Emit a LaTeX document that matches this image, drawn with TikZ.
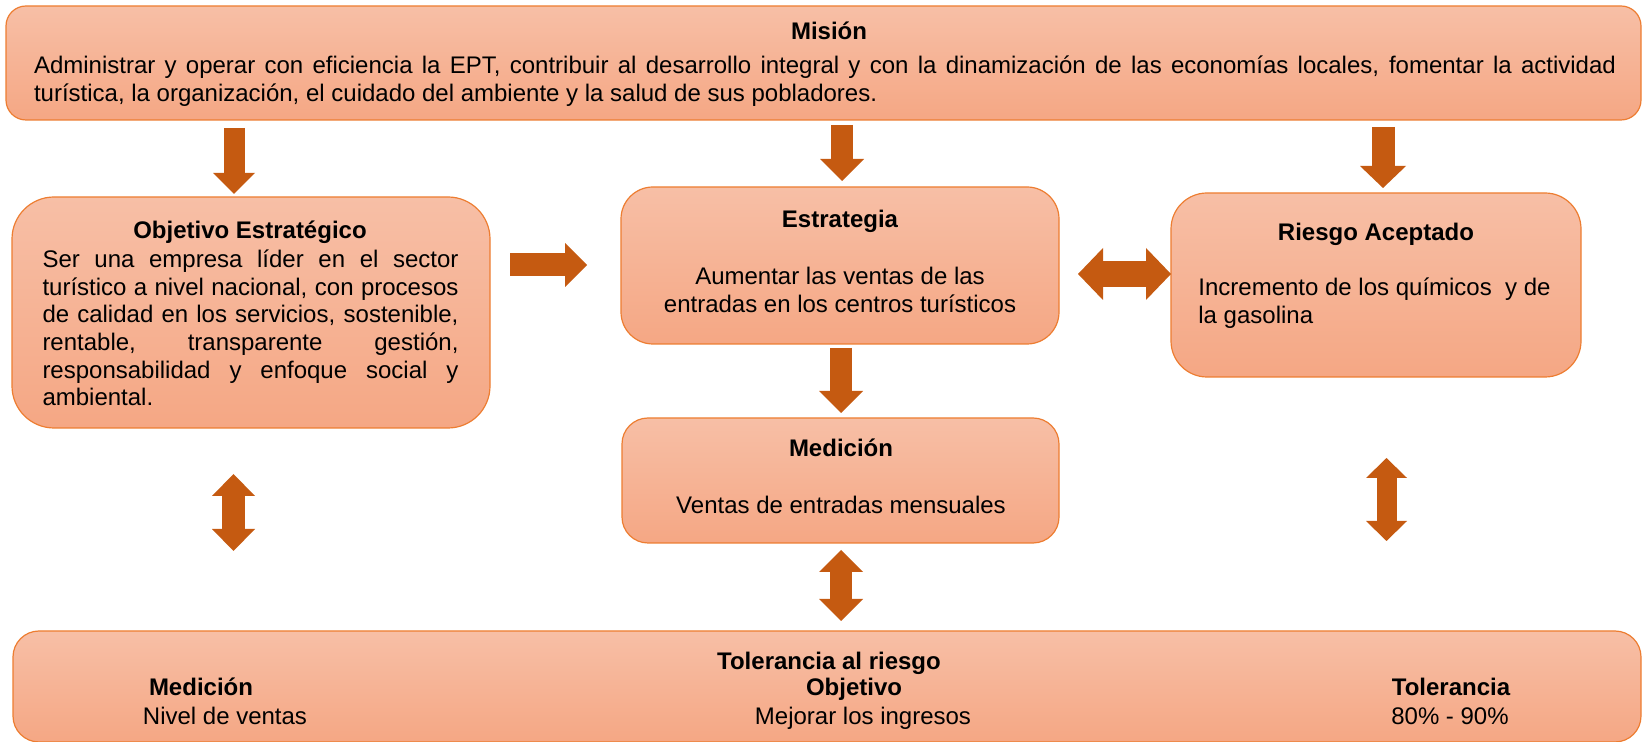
\documentclass[tikz,border=0pt]{standalone}
\usepackage{fontspec}
\setmainfont{Liberation Sans}
\usetikzlibrary{arrows.meta,fit}
\definecolor{arrc}{HTML}{C55A11}
\definecolor{bordc}{HTML}{ED7D31}
\definecolor{ftop}{HTML}{F7BFA6}
\definecolor{fbot}{HTML}{F5A784}
\begin{document}
\begin{tikzpicture}[x=0.5pt,y=-0.5pt,
  box/.style={draw=bordc, line width=0.6pt, top color=ftop, bottom color=fbot, inner sep=0pt, rounded corners=#1},
  ttl/.style={font=\fontsize{12}{13.8}\selectfont\bfseries, inner sep=0pt},
  txt/.style={font=\fontsize{12}{13.8}\selectfont, inner sep=0pt},
  sl/.style={text height=9pt, text depth=2.6pt},
  blk/.style={draw=arrc, line width=#1}
]
\clip (0,0) rectangle (1644,742);
% boxes
\node[box=10pt, fit={(6,6) (1641,120)}] (mision) {};
\node[box=21pt, fit={(12,197) (490,428)}] (obj) {};
\node[box=16pt, fit={(621,187) (1059,344)}] (estr) {};
\node[box=18pt, fit={(1171,193) (1581,377)}] (ries) {};
\node[box=13pt, fit={(622,418) (1059,543)}] (med) {};
\node[box=13pt, fit={(13,631) (1641,742)}] (tol) {};
% texts
\node[ttl] (misiont) at (829,31) {Misión};
\node[txt, align=left] (misionb) at (825,81) {\makebox[791pt][s]{Administrar y operar con eficiencia la EPT, contribuir al desarrollo integral y con la dinamización de las economías locales, fomentar la actividad}\\turística, la organización, el cuidado del ambiente y la salud de sus pobladores.};
\node[ttl] (objt) at (250,232) {Objetivo Estratégico};
\node[txt, align=left] (objb) at (250.5,328) {\makebox[208pt][s]{Ser una empresa líder en el sector}\\\makebox[208pt][s]{turístico a nivel nacional, con procesos}\\\makebox[208pt][s]{de calidad en los servicios, sostenible,}\\\makebox[208pt][s]{rentable, \hfill transparente \hfill gestión,}\\\makebox[208pt][s]{responsabilidad y enfoque social y}\\ambiental.};
\node[ttl] (estrt) at (840,221) {Estrategia};
\node[txt, align=center] (estrb) at (840,290) {Aumentar las ventas de las\\entradas en los centros turísticos};
\node[ttl] (riest) at (1376,234) {Riesgo Aceptado};
\node[txt, align=left, anchor=west] (riesb) at (1198,303) {Incremento de los químicos\ \ y de\\la gasolina};
\node[ttl] (medt) at (841,448) {Medición};
\node[txt] (medb) at (841,505) {Ventas de entradas mensuales};
\node[ttl, sl] (tolt) at (829,663) {Tolerancia al riesgo};
\node[ttl, sl] (c1t) at (201,689) {Medición};
\node[ttl, sl] (c2t) at (854,689) {Objetivo};
\node[ttl, sl] (c3t) at (1451,689) {Tolerancia};
\node[txt, sl] (c1b) at (225,718) {Nivel de ventas};
\node[txt, sl] (c2b) at (863,718) {Mejorar los ingresos};
\node[txt, sl] (c3b) at (1450,718) {80\% - 90\%};
% arrow end points
\coordinate (a1s) at (234,128);   \coordinate (a1e) at (234,194);
\coordinate (a2s) at (842,125);   \coordinate (a2e) at (842,181);
\coordinate (a3s) at (1383,127);  \coordinate (a3e) at (1383,188);
\coordinate (a4s) at (510,265);   \coordinate (a4e) at (587,265);
\coordinate (a5s) at (1078,274);  \coordinate (a5e) at (1171,274);
\coordinate (a6s) at (841,348);   \coordinate (a6e) at (841,413);
\coordinate (a7s) at (233.5,474); \coordinate (a7e) at (233.5,551);
\coordinate (a8s) at (841,550);   \coordinate (a8e) at (841,621);
\coordinate (a9s) at (1386.5,458);\coordinate (a9e) at (1386.5,541);
% arrows
\draw[blk=10.5pt, -{Triangle[length=10.5pt,width=21pt,line width=0pt]}] (a1s) -- (a1e);
\draw[blk=11pt, -{Triangle[length=11pt,width=22pt,line width=0pt]}] (a2s) -- (a2e);
\draw[blk=11.5pt, -{Triangle[length=11pt,width=23pt,line width=0pt]}] (a3s) -- (a3e);
\draw[blk=11.5pt, -{Triangle[length=11pt,width=22pt,line width=0pt]}] (a4s) -- (a4e);
\draw[blk=13pt, {Triangle[length=12.5pt,width=26pt,line width=0pt]}-{Triangle[length=12.5pt,width=26pt,line width=0pt]}] (a5s) -- (a5e);
\draw[blk=11pt, -{Triangle[length=11pt,width=22pt,line width=0pt]}] (a6s) -- (a6e);
\draw[blk=11.5pt, {Triangle[length=11pt,width=21.5pt,line width=0pt]}-{Triangle[length=11pt,width=21.5pt,line width=0pt]}] (a7s) -- (a7e);
\draw[blk=11pt, {Triangle[length=11pt,width=22pt,line width=0pt]}-{Triangle[length=11pt,width=22pt,line width=0pt]}] (a8s) -- (a8e);
\draw[blk=10pt, {Triangle[length=10pt,width=20.5pt,line width=0pt]}-{Triangle[length=10pt,width=20.5pt,line width=0pt]}] (a9s) -- (a9e);
\end{tikzpicture}
\end{document}
